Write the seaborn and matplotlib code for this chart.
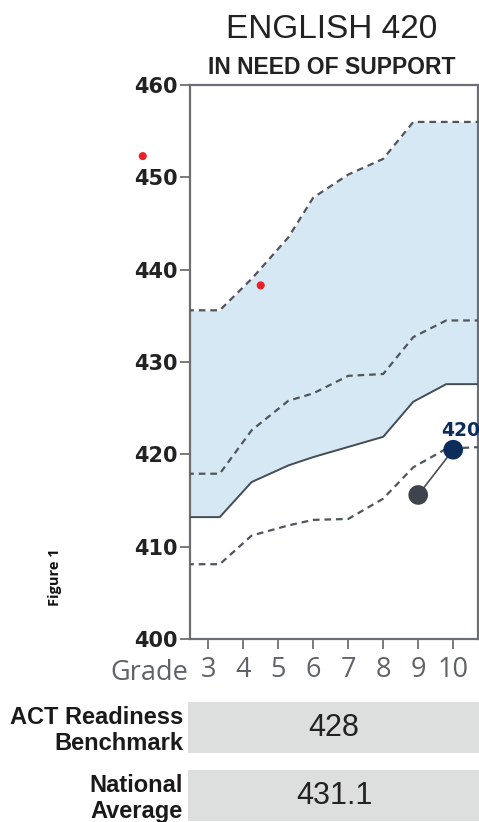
import numpy as np
import pandas as pd
import matplotlib
matplotlib.use("Agg")
import matplotlib.pyplot as plt
from matplotlib.patches import Rectangle
import seaborn as sns

# -----------------------------
# Data
# -----------------------------
knot_x = [2.4, 3.33, 4.24, 5.29, 6.0, 7.0, 8.0, 8.86, 9.8, 10.8]
upper_band = [435.6, 435.6, 439.0, 443.5, 447.8, 450.3, 452.0, 456.0, 456.0, 456.0]
mid_line = [417.9, 417.9, 422.6, 425.8, 426.6, 428.5, 428.7, 432.7, 434.5, 434.5]
bench_line = [413.2, 413.2, 417.0, 418.8, 419.7, 420.8, 421.9, 425.7, 427.6, 427.6]
lower_line = [408.1, 408.1, 411.2, 412.3, 412.9, 413.0, 415.2, 418.6, 420.6, 420.8]

student_grade = [9, 10]
student_score = [415.6, 420.5]
student_colors = ["#3f444c", "#0c2d5c"]

red_x = [1.13, 4.5]
red_y = [452.3, 438.3]

grade_ticks = [3, 4, 5, 6, 7, 8, 9, 10]
score_ticks = [400, 410, 420, 430, 440, 450, 460]

table_labels = ["ACT Readiness\nBenchmark", "National\nAverage"]
table_values = ["428", "431.1"]

# -----------------------------
# Figure
# -----------------------------
sns.set_theme(style="white")
plt.rcParams["font.family"] = ["Liberation Sans", "DejaVu Sans"]

W, H = 479, 822
fig = plt.figure(figsize=(W / 100, H / 100), dpi=100)
ax = fig.add_axes([190 / W, 1 - 639 / H, (477.7 - 190) / W, (639 - 85) / H])

df = pd.DataFrame({"x": knot_x, "upper": upper_band, "mid": mid_line,
                   "bench": bench_line, "lower": lower_line})

ax.fill_between(df["x"], df["bench"], df["upper"], color="#d6e8f3", lw=0, zorder=1)

dash_col = "#50555d"
for col in ["upper", "mid", "lower"]:
    sns.lineplot(data=df, x="x", y=col, ax=ax, color=dash_col, lw=1.6,
                 dashes=(3.0, 2.2), zorder=3, sort=False)
sns.lineplot(data=df, x="x", y="bench", ax=ax, color="#454c55", lw=1.4, zorder=3, sort=False)

# student scores
ax.plot(student_grade, student_score, color="#4a4f57", lw=1.2, zorder=4)
sns.scatterplot(x=student_grade, y=student_score, hue=[str(g) for g in student_grade],
                palette=student_colors, s=200, edgecolor="none", legend=False, ax=ax, zorder=5)
ax.text(student_grade[-1] + 0.2, student_score[-1] + 1.0, "420", color="#0c2d5c",
        fontsize=13.5, fontweight="bold", ha="center", va="bottom",
        family=["DejaVu Sans"], zorder=6, clip_on=False)

# stray red markers
ax.scatter(red_x, red_y, color="#e8232b", s=34, edgecolor="none", zorder=6, clip_on=False)

ax.set_xlim(2.48, 10.7)
ax.set_ylim(400, 460)
ax.set_xticks(grade_ticks)
ax.set_yticks(score_ticks)
ax.set_xticklabels([str(g) for g in grade_ticks], family=["Open Sans"], fontsize=19.5, color="#5f6368")
ax.set_yticklabels([str(s) for s in score_ticks], family=["DejaVu Sans"], fontsize=15,
                   fontweight="bold", color="#222222")
ax.tick_params(axis="both", which="both", direction="out", length=7, width=1.3,
               color="#707070", left=True, bottom=True)
ax.tick_params(axis="x", pad=5)
ax.tick_params(axis="y", pad=2)
ax.set_xlabel("")
ax.set_ylabel("")
for sp in ax.spines.values():
    sp.set_color("#6b6f75")
    sp.set_linewidth(1.6)

fig.text(188 / W, 1 - 673 / H, "Grade", family=["Open Sans"], fontsize=19.5, color="#5f6368",
         ha="right", va="center")

# titles
fig.text(332 / W, 1 - 30 / H, "ENGLISH 420", fontsize=24, color="#222222", ha="center", va="center")
fig.text(332 / W, 1 - 68 / H, "IN NEED OF SUPPORT", fontsize=16.5, fontweight="bold",
         color="#222222", ha="center", va="center")

fig.text(55 / W, 1 - 577 / H, "Figure 1", family=["Open Sans"], fontsize=10.5, fontweight="bold",
         rotation=90, ha="center", va="center", color="#111111")

# -----------------------------
# Summary boxes
# -----------------------------
box_tops = [702, 770]
box_bottoms = [753, 821]
for lab, val, top, bot in zip(table_labels, table_values, box_tops, box_bottoms):
    fig.add_artist(Rectangle((188 / W, 1 - bot / H), (W - 188) / W, (bot - top) / H,
                             transform=fig.transFigure, color="#dddfde", lw=0))
    fig.text(334 / W, 1 - (top + bot) / 2 / H, val, fontsize=22, color="#222222",
             ha="center", va="center")
    fig.text(183 / W, 1 - ((top + bot) / 2 + 3) / H, lab, fontsize=17, fontweight="bold",
             color="#1a1a1a", ha="right", va="center", linespacing=1.15)

fig.savefig("out.png", dpi=100)
